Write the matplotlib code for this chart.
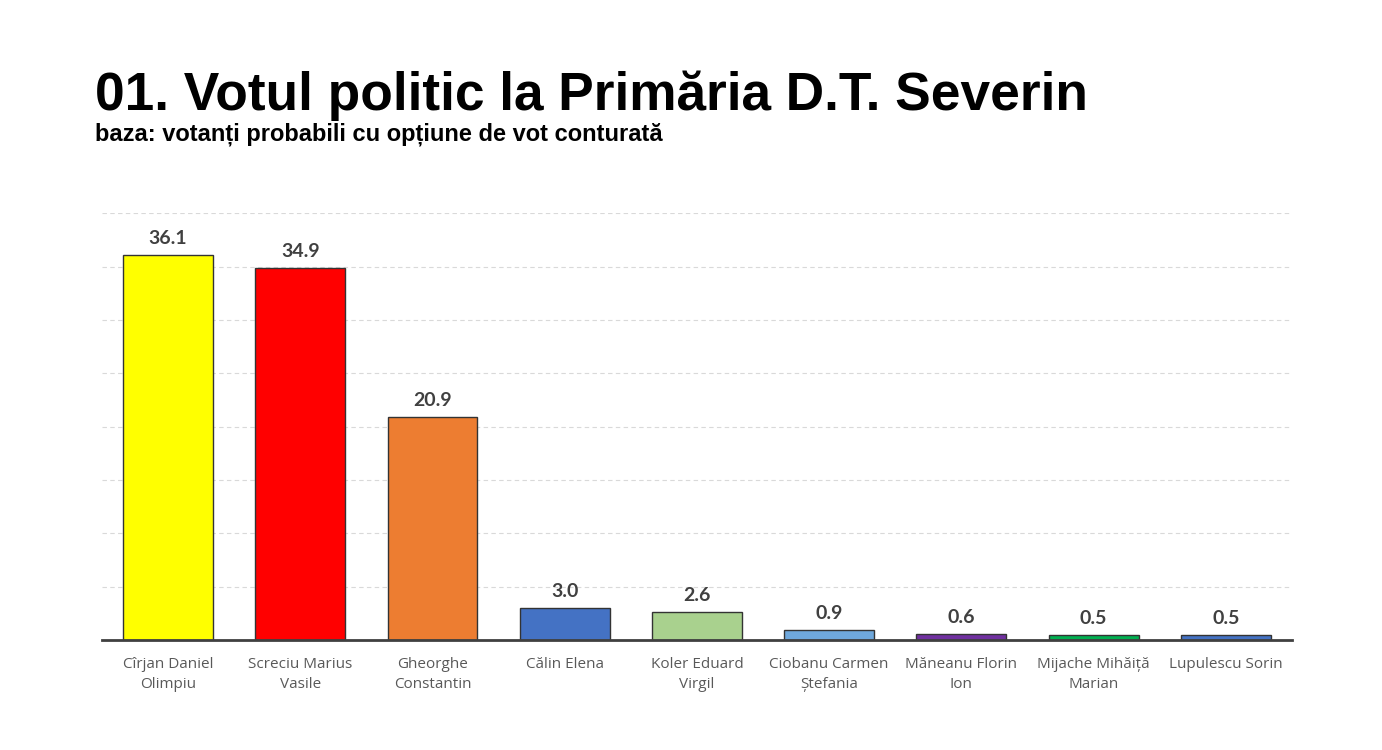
import numpy as np
from matplotlib import pyplot as plt

# date
candidati = [
    "Cîrjan Daniel\nOlimpiu",
    "Screciu Marius\nVasile",
    "Gheorghe\nConstantin",
    "Călin Elena",
    "Koler Eduard\nVirgil",
    "Ciobanu Carmen\nȘtefania",
    "Măneanu Florin\nIon",
    "Mijache Mihăiță\nMarian",
    "Lupulescu Sorin",
]
procente = [36.1, 34.9, 20.9, 3.0, 2.6, 0.9, 0.6, 0.5, 0.5]
culori = ["#FFFF00", "#FF0000", "#ED7D31", "#4472C4", "#A9D18E",
          "#6FA8DC", "#7030A0", "#00B050", "#4472C4"]

plt.rcParams['font.family'] = ['Liberation Sans', 'DejaVu Sans']

fig = plt.figure(figsize=(13.82, 7.5), dpi=100)
ax = fig.add_axes([0.0738, 0.1467, 0.861, 0.569])

x = np.arange(len(candidati))
ax.bar(x, procente, width=0.68, color=culori, edgecolor="#333333", linewidth=1.0, zorder=3)

# etichete valori deasupra barelor
for xi, v in zip(x, procente):
    ax.text(xi, v + 0.75, f"{v:.1f}", ha="center", va="bottom",
            fontsize=14, fontweight="bold", color="#404040", family=["Lato", "DejaVu Sans"])

ax.set_xlim(-0.5, len(candidati) - 0.5)
ax.set_ylim(0, 40)
ax.set_yticks(np.arange(5, 41, 5))
ax.yaxis.grid(True, color="#D9D9D9", linestyle=(0, (4, 3)), linewidth=0.8, zorder=0)
ax.tick_params(axis="y", length=0, labelleft=False)
ax.set_xticks(x)
ax.set_xticklabels(candidati, fontsize=11, color="#595959", family=["Open Sans", "DejaVu Sans"],
                   linespacing=1.5)
ax.tick_params(axis="x", length=0, pad=12)

for s in ["top", "right", "left"]:
    ax.spines[s].set_visible(False)
ax.spines["bottom"].set_color("#404040")
ax.spines["bottom"].set_linewidth(2)
ax.spines["bottom"].set_zorder(4)

fig.text(0.069, 0.853, "01. Votul politic la Primăria D.T. Severin",
         fontsize=38.3, fontweight="bold", color="black")
fig.text(0.069, 0.812, "baza: votanți probabili cu opțiune de vot conturată",
         fontsize=17, fontweight="bold", color="black")

plt.savefig("out.png", dpi=100)
